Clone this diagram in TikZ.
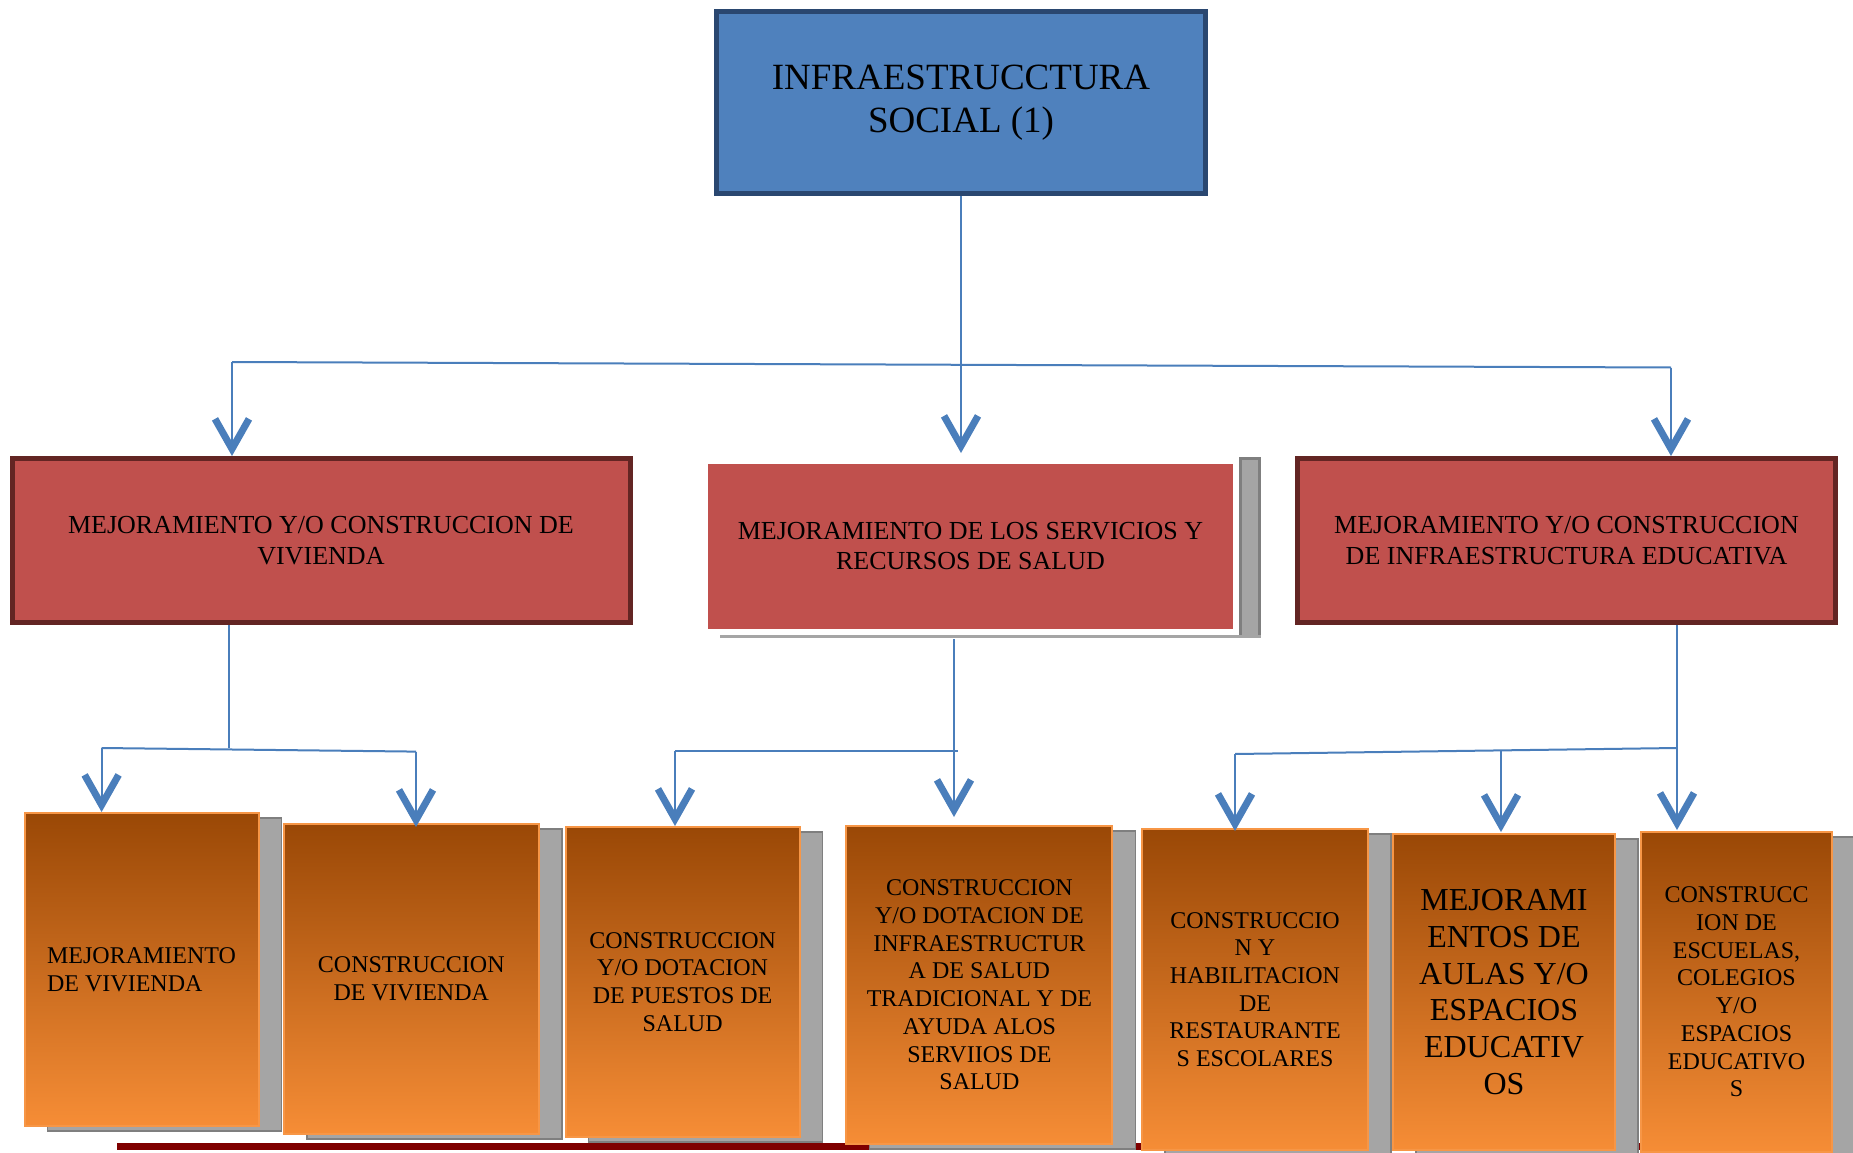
\documentclass[tikz,border=0pt]{standalone}
\usepackage{fontspec}
\setmainfont{Liberation Serif}
\usetikzlibrary{arrows.meta,shadows}

\definecolor{topblue}{HTML}{4F81BD}
\definecolor{topline}{HTML}{2A4770}
\definecolor{midred}{HTML}{C0504D}
\definecolor{midline}{HTML}{632523}
\definecolor{orgtop}{HTML}{9A4806}
\definecolor{orgbot}{HTML}{F68D36}
\definecolor{orgline}{HTML}{F79646}
\definecolor{connblue}{HTML}{4A7EBB}
\definecolor{shadegray}{HTML}{A5A5A5}
\definecolor{shadeline}{HTML}{7F7F7F}
\definecolor{barred}{HTML}{7F0000}

\tikzset{
  conn/.style={draw=connblue, line width=2pt},
  arr/.style={conn, -{Straight Barb[length=30pt, width=34pt, line width=7pt, sharp]}},
  topbox/.style={draw=topline, line width=5pt, fill=topblue, anchor=north west, align=center,
    font=\fontsize{37}{42.5}\selectfont},
  midbox/.style={draw=midline, line width=5pt, fill=midred, anchor=north west, align=center,
    font=\fontsize{26}{30.7}\selectfont},
  leafbox/.style={draw=orgline, line width=2pt, top color=orgtop, bottom color=orgbot,
    anchor=north west, align=center, inner sep=0pt, font=\fontsize{24}{27.7}\selectfont,
    drop shadow={shadow xshift=23pt, shadow yshift=-5pt, fill=shadegray, draw=shadeline,
      line width=1.5pt, opacity=1}}
}

\begin{document}
\begin{tikzpicture}[x=1pt,y=-1pt]
  \useasboundingbox[fill=white] (0,0) rectangle (1853,1153);

  % bar under the leaves
  \fill[barred] (117,1143) rectangle (1640,1149.5);

  % boxes
  \node[topbox, minimum width=489pt, minimum height=182pt] (top) at (714,9) {INFRAESTRUCCTURA\\SOCIAL (1)};

  \node[midbox, minimum width=618pt, minimum height=164pt] (midL) at (9.5,456) {MEJORAMIENTO Y/O CONSTRUCCION DE\\VIVIENDA};
  \fill[shadegray, draw=shadeline, line width=3pt] (1240,458.5) rectangle (1259.5,636.5);
  \draw[shadegray, line width=3pt] (720,636.5) -- (1261,636.5);
  \node[midbox, draw=none, minimum width=525pt, minimum height=165pt] (midS) at (705.5,461) {MEJORAMIENTO DE LOS SERVICIOS Y\\RECURSOS DE SALUD};
  \node[midbox, minimum width=538pt, minimum height=164pt] (midR) at (1295,456) {MEJORAMIENTO Y/O CONSTRUCCION\\DE INFRAESTRUCTURA EDUCATIVA};

  \node[leafbox, align=left, minimum width=234pt, minimum height=313pt] (b1) at (23.6,812) {MEJORAMIENTO\\DE VIVIENDA};
  \node[leafbox, minimum width=255pt, minimum height=310pt] (b2) at (282.8,823) {CONSTRUCCION\\DE VIVIENDA};
  \node[leafbox, minimum width=234pt, minimum height=310pt] (b3) at (564.6,826) {CONSTRUCCION\\Y/O DOTACION\\DE PUESTOS DE\\SALUD};
  \node[leafbox, minimum width=266pt, minimum height=318pt] (b4) at (845.4,825) {CONSTRUCCION\\Y/O DOTACION DE\\INFRAESTRUCTUR\\A DE SALUD\\TRADICIONAL Y DE\\AYUDA ALOS\\SERVIIOS DE\\SALUD};
  \node[leafbox, minimum width=226pt, minimum height=321pt] (b5) at (1141,828) {CONSTRUCCIO\\N Y\\HABILITACION\\DE\\RESTAURANTE\\S ESCOLARES};
  \node[leafbox, font=\fontsize{32}{36.7}\selectfont, minimum width=222pt, minimum height=316pt] (b6) at (1392,833) {MEJORAMI\\ENTOS DE\\AULAS Y/O\\ESPACIOS\\EDUCATIV\\OS};
  \node[leafbox, minimum width=191pt, minimum height=320pt] (b7) at (1640,831) {CONSTRUCC\\ION DE\\ESCUELAS,\\COLEGIOS\\Y/O\\ESPACIOS\\EDUCATIVO\\S};

  % first level
  \coordinate (jL) at (232,362);
  \coordinate (jR) at (1671,367.5);
  \draw[conn] (jL) -- (jR);
  \draw[arr] (top.south) -- ([yshift=8pt]top.south |- midS.north);
  \draw[arr] (jL) -- (jL |- midL.north);
  \draw[arr] (jR) -- (jR |- midR.north);

  % second level
  \coordinate (kL) at (229,748);
  \coordinate (kL1) at (101.6,748);
  \coordinate (kL2) at (416,751.6);
  \draw[conn] (kL |- midL.south) -- (kL);
  \draw[conn] (kL1) -- (kL2);
  \draw[arr] (kL1) -- (kL1 |- b1.north);
  \draw[arr] (kL2) -- ([yshift=-4pt]kL2 |- b2.north);

  \coordinate (kS) at (954,751);
  \coordinate (kS1) at (675,751);
  \draw[arr, shorten <=8pt] (kS |- midS.south) -- ([yshift=8pt]kS |- b4.north);
  \draw[conn] (kS1) -- ([xshift=4pt]kS);
  \draw[arr] (kS1) -- (kS1 |- b3.north);

  \coordinate (kR) at (1677,748);
  \coordinate (kR1) at (1235,754);
  \coordinate (kR2) at (1501,750.4);
  \draw[arr] (kR |- midR.south) -- ([yshift=1pt]kR |- b7.north);
  \draw[conn] (kR1) -- (kR);
  \draw[arr] (kR1) -- ([yshift=-3pt]kR1 |- b5.north);
  \draw[arr] (kR2) -- ([yshift=1pt]kR2 |- b6.north);
\end{tikzpicture}
\end{document}
